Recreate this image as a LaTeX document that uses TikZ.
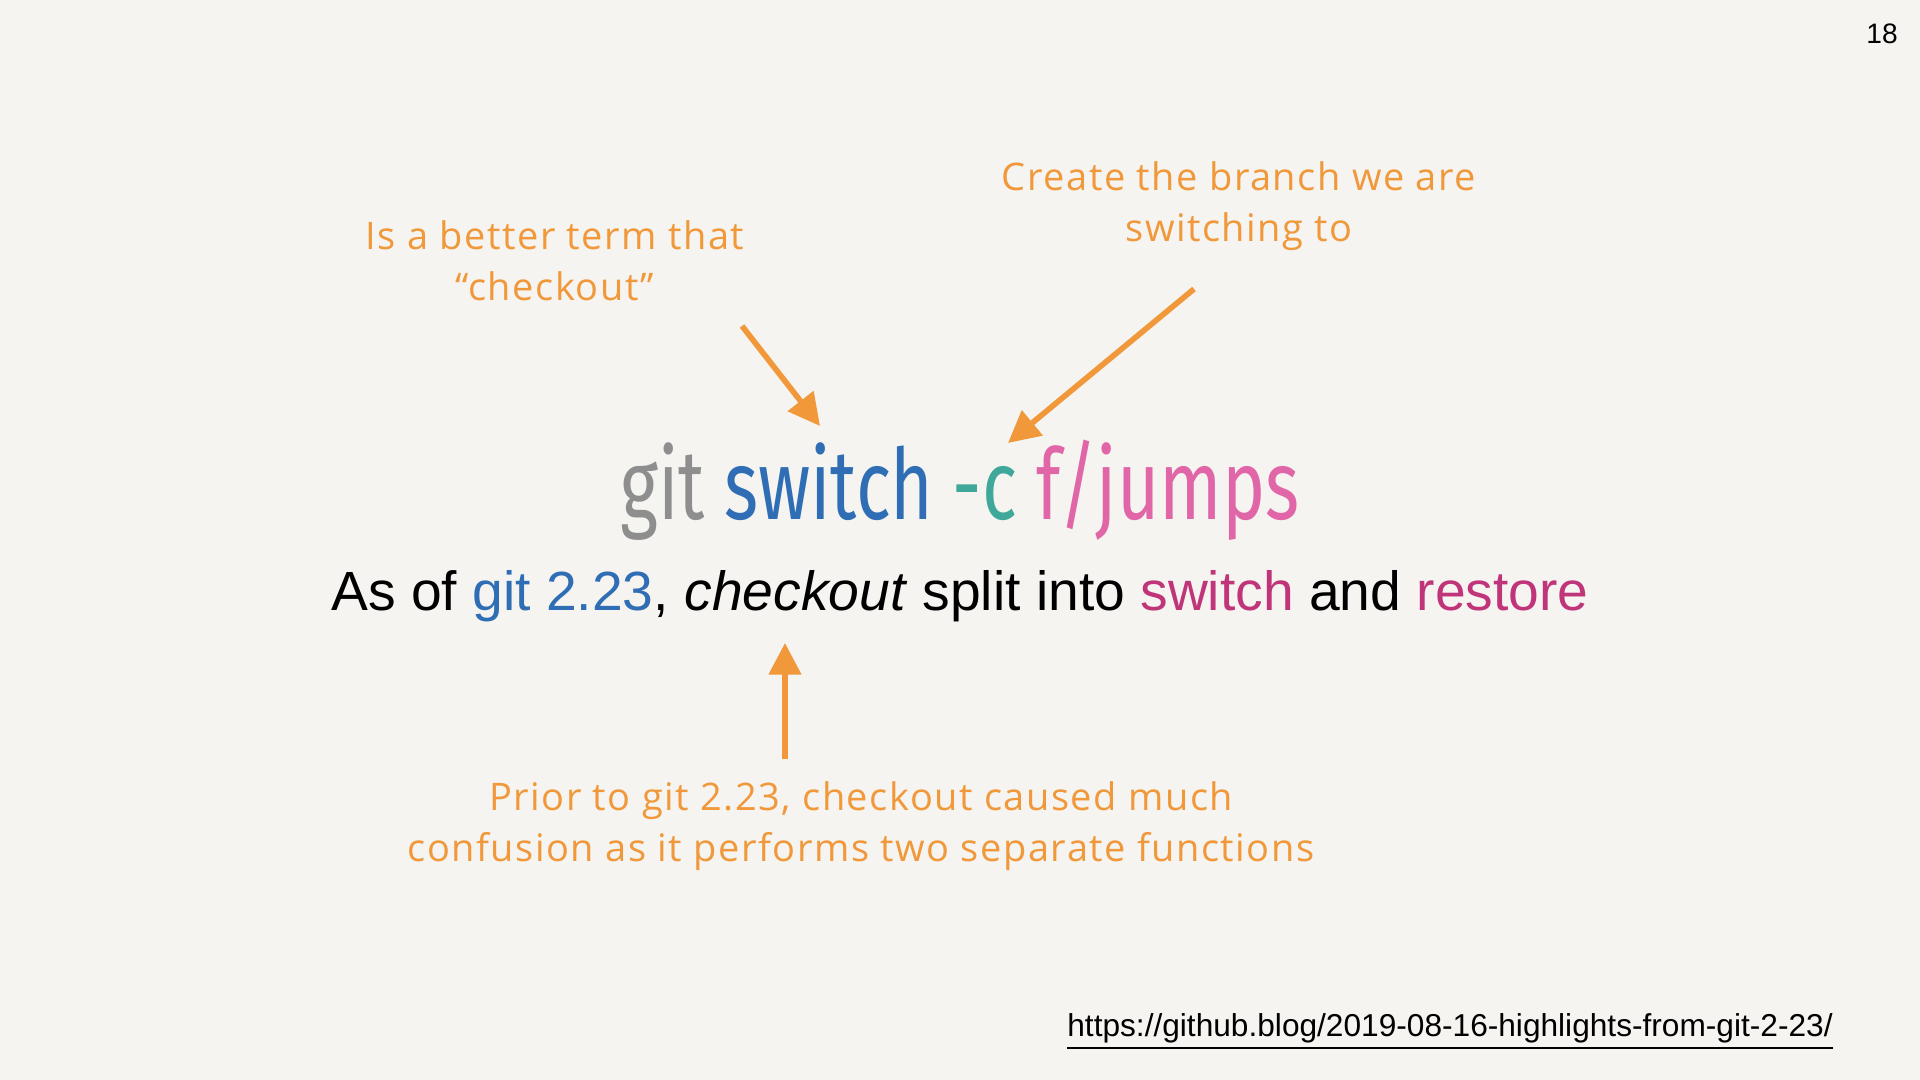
\documentclass[tikz,border=0pt]{standalone}
\usepackage{fontspec}
\setmainfont{Liberation Sans}
\newfontfamily\notefont[LetterSpace=4]{Open Sans}
\newfontfamily\condfont{Fira Sans}
\usetikzlibrary{arrows.meta}
\definecolor{bg}{HTML}{F5F4F0}
\definecolor{note}{HTML}{F0983A}
\definecolor{ggray}{HTML}{8E8E8E}
\definecolor{gblue}{HTML}{2F6EB5}
\definecolor{gteal}{HTML}{3FA89A}
\definecolor{gpink}{HTML}{E066A8}
\definecolor{gmag}{HTML}{C0347A}
\tikzset{
 notetxt/.style={text=note,font=\notefont\fontsize{10.8}{14.5}\selectfont,align=center},
 notearrow/.style={draw=note,line width=1.6pt,-{Triangle[length=9pt,width=9pt]}}
}
\begin{document}
\begin{tikzpicture}[x=0.01cm,y=-0.01cm]
\fill[bg] (0,0) rectangle (1920,1080);
\node (pg) at (1882,34) {\fontsize{8}{10}\selectfont 18};
\node[notetxt] (n1) at (555,261) {Is a better term that\\“checkout”};
\node[notetxt] (n2) at (1239,206) {Create the branch we are\\switching to};
\node (cmd) at (960,490) {\scalebox{0.74}[1]{\condfont\fontsize{28}{32}\selectfont\textcolor{ggray}{git} \textcolor{gblue}{switch} \textcolor{gteal}{-c} \textcolor{gpink}{f/jumps}}};
\node (sub) at (960,596) {\fontsize{15.7}{20}\selectfont As of \textcolor{gblue}{git 2.23}, \textit{checkout} split into \textcolor{gmag}{switch} and \textcolor{gmag}{restore}};
\node[notetxt] (n3) at (861,826) {Prior to git 2.23, checkout caused much\\confusion as it performs two separate functions};
\node (url) at (1450,1032) {\fontsize{9}{11}\selectfont\underline{https://github.blog/2019-08-16-highlights-from-git-2-23/}};
\coordinate (a1s) at (742,326); \coordinate (a1e) at (820,426);
\coordinate (a2s) at (1194,289); \coordinate (a2e) at (1008,443);
\coordinate (a3s) at (785,759); \coordinate (a3e) at (785,643);
\draw[notearrow] (a1s) -- (a1e);
\draw[notearrow] (a2s) -- (a2e);
\draw[notearrow] (a3s) -- (a3e);
\end{tikzpicture}
\end{document}
